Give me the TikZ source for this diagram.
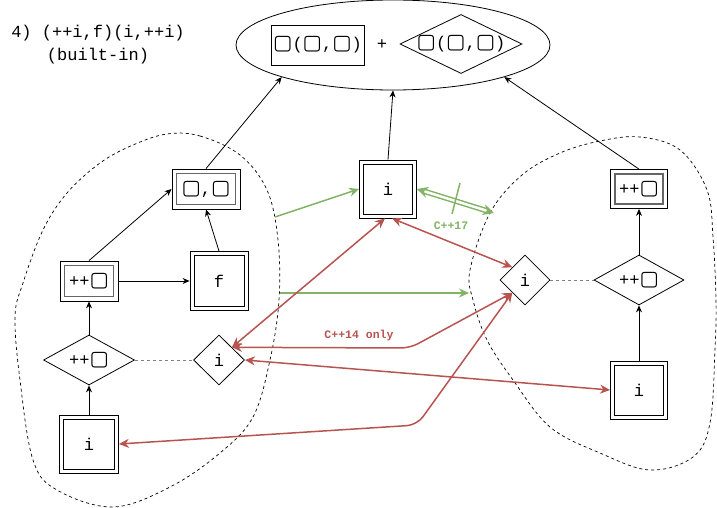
\documentclass[tikz,border=0pt]{standalone}
\usepackage{fontspec}
\setmainfont{Liberation Mono}
\newfontfamily\symf{DejaVu Sans}
\usetikzlibrary{shapes.geometric,arrows.meta}
\definecolor{okgreen}{HTML}{82B366}
\definecolor{badred}{HTML}{B85450}
\definecolor{innergray}{HTML}{666666}
\newcommand{\sqr}{{\symf\fontsize{20.5}{20.5}\selectfont\char"25A2}}
\tikzset{
  box/.style={draw, rectangle, inner sep=0pt, line width=0.8pt},
  dbox/.style={box, path picture={\draw[line width=0.9pt]
      ([shift={(4pt,4pt)}]path picture bounding box.south west) rectangle
      ([shift={(-4pt,-4pt)}]path picture bounding box.north east);}},
  gbox/.style={box, path picture={\draw[innergray, line width=1.8pt]
      ([shift={(4.5pt,4.5pt)}]path picture bounding box.south west) rectangle
      ([shift={(-4.5pt,-4.5pt)}]path picture bounding box.north east);}},
  dia/.style={draw, diamond, inner sep=0pt, line width=0.8pt},
  link/.style={-{Stealth[length=7pt,width=6pt]}, line width=0.8pt},
  sib/.style={dashed, gray, line width=0.9pt},
  blob/.style={line width=0.7pt, dash pattern=on 3pt off 3pt},
  good/.style={okgreen, line width=1.5pt, -{Stealth[length=10pt,width=9pt]}},
  bad/.style={badred, line width=1.5pt, {Stealth[length=10pt,width=9pt]}-{Stealth[length=10pt,width=9pt]}},
  note/.style={font=\fontsize{11.5}{13}\selectfont\bfseries}
}
\begin{document}
\begin{tikzpicture}[x=1pt,y=1pt,font=\fontsize{17}{23}\selectfont]
\useasboundingbox (0,0) rectangle (717,-508);
%% title
\node[align=center] (title) at (98,-45) {4) (++i,f)(i,++i)\\(built-in)};
%% groups
\draw[blob] plot[smooth cycle, tension=0.6] coordinates {(167,-134) (200,-136) (240,-155) (267,-190) (278,-240) (279,-300) (270,-360) (253,-417) (220,-453) (170,-487) (113,-507) (57,-490) (33,-460) (20,-380) (15,-317) (23,-283) (43,-230) (67,-193) (100,-163) (133,-145)};
\draw[blob] plot[smooth cycle, tension=0.6] coordinates {(470,-270) (490,-213) (522,-175) (560,-153) (600,-141) (640,-137) (680,-150) (707,-190) (713,-237) (716,-300) (715,-350) (710,-423) (693,-457) (650,-470) (600,-453) (550,-427) (513,-380) (487,-340) (473,-300)};
%% result
\node[draw, ellipse, line width=0.8pt, minimum width=314pt, minimum height=90pt] (res) at (393,-45) {};
\node[box, minimum width=93pt, minimum height=40pt] (rbox) at (317.5,-45) {\sqr(\sqr,\sqr)};
\node (plus) at (382,-45) {+};
\node[dia, aspect=2, inner xsep=-6pt, minimum width=122pt, minimum height=59pt] (rdia) at (461,-44) {\sqr(\sqr,\sqr)};
%% left side
\node[gbox, minimum width=68pt, minimum height=40pt] (pair) at (206,-189) {\sqr,\sqr};
\node[gbox, minimum width=58pt, minimum height=40pt] (incl) at (89,-281) {++\sqr};
\node[dbox, minimum width=58pt, minimum height=59pt] (fbox) at (219,-281) {f};
\node[dia, aspect=1.8, minimum width=91pt, minimum height=50pt] (incld) at (89,-360) {++\sqr};
\node[dia, minimum width=51pt, minimum height=50pt] (ild) at (219,-360) {i};
\node[dbox, minimum width=59pt, minimum height=58pt] (ibl) at (89,-444) {i};
%% middle
\node[dbox, minimum width=57pt, minimum height=58pt] (ic) at (388,-189) {i};
%% right side
\node[gbox, minimum width=57pt, minimum height=39pt] (incr) at (639,-189) {++\sqr};
\node[dia, aspect=1.8, minimum width=90pt, minimum height=50pt] (incrd) at (639,-280) {++\sqr};
\node[dbox, minimum width=57pt, minimum height=58pt] (ir) at (639,-390) {i};
\node[dia, minimum width=50pt, minimum height=50pt] (ird) at (525,-280) {i};
%% black links
\draw[link] (ibl.north) -- (incld.south);
\draw[link] (incld.north) -- (incl.south);
\draw[link] (incl.east) -- (fbox.west);
\draw[link] (incl.north) -- (pair.west);
\draw[link] (fbox.north) -- (pair.south);
\draw[link] (pair.north) -- (res.south west);
\draw[link] (ic.north) -- (res.south);
\draw[link] (incr.north) -- (res.south east);
\draw[link] (ir.north) -- (incrd.south);
\draw[link] (incrd.north) -- (incr.south);
\draw[sib] (incld.east) -- (ild.west);
\draw[sib] (ird.east) -- (incrd.west);
%% green
\coordinate (g1) at (275,-217);
\coordinate (g2) at (494,-213);
\coordinate (g3) at (280,-293);
\coordinate (g4) at (469,-293);
\draw[good] (g1) -- (ic.west);
\draw[good] (g3) -- (g4);
\draw[okgreen, line width=1.5pt, double=white, double distance=2.5pt, {Stealth[length=11pt,width=11pt]}-{Stealth[length=11pt,width=11pt]}] (ic.east) -- (g2);
\draw[okgreen, line width=1.5pt] (460,-183) -- (452,-214);
\node[note, text=okgreen] (c17) at (451,-226) {C++17};
%% red
\coordinate (bend1) at (410,-348);
\coordinate (bend2) at (417,-425);
\draw[bad] (ild.north east) -- ([xshift=-3pt]ic.south);
\draw[bad] ([xshift=4pt]ic.south) -- (ird.north west);
\draw[bad, rounded corners=9pt] (ild.north east) -- (bend1) -- (ird.south west);
\node[note, text=badred] (c14) at (359,-336) {C++14 only};
\draw[bad] (ild.east) -- (ir.west);
\draw[bad, rounded corners=10pt] (ibl.east) -- (bend2) -- (ird.south west);
\end{tikzpicture}
\end{document}
